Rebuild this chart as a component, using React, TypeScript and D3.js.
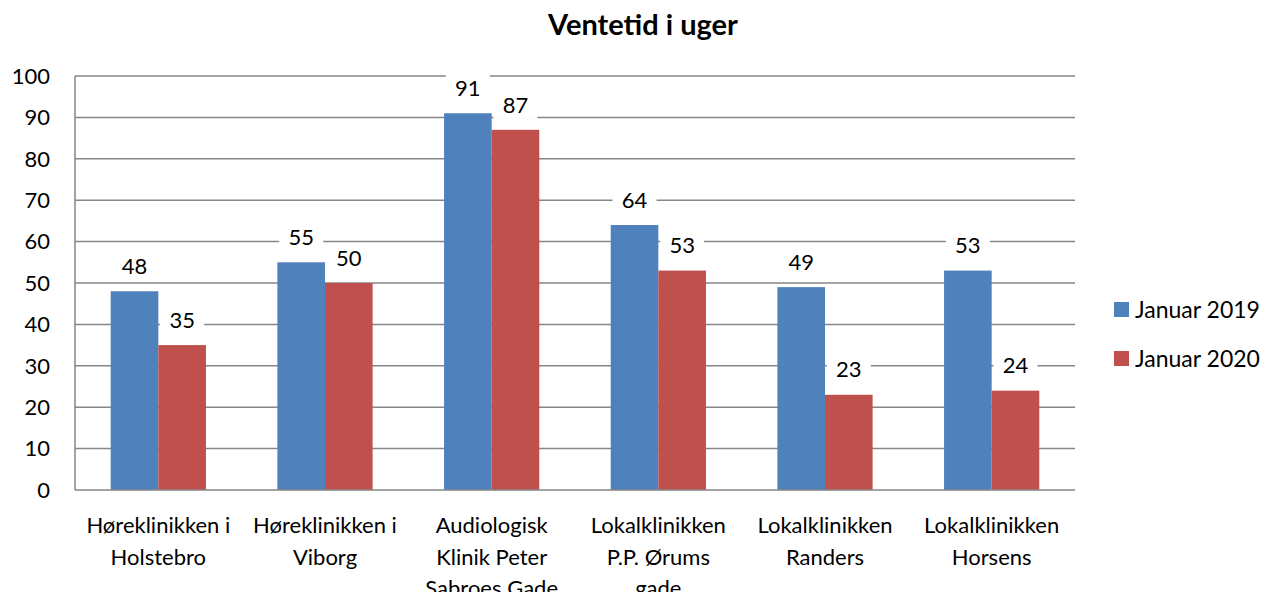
import { useRef, useEffect } from 'react';
import * as d3 from 'd3';

const categories = [
  ['Høreklinikken i', 'Holstebro'],
  ['Høreklinikken i', 'Viborg'],
  ['Audiologisk', 'Klinik Peter', 'Sabroes Gade'],
  ['Lokalklinikken', 'P.P. Ørums', 'gade'],
  ['Lokalklinikken', 'Randers'],
  ['Lokalklinikken', 'Horsens'],
];
const series = ['Januar 2019', 'Januar 2020'];
const jan2019 = [48, 55, 91, 64, 49, 53];
const jan2020 = [35, 50, 87, 53, 23, 24];
const yTicks = [0, 10, 20, 30, 40, 50, 60, 70, 80, 90, 100];
const colors = ['#4F81BD', '#C0504D'];

const FONT = 'Lato, "Open Sans", sans-serif';

const App = () => {
  const svgRef = useRef<SVGSVGElement>(null);

  useEffect(() => {
    const svg = d3.select(svgRef.current);
    svg.selectAll('*').remove();

    const left = 75, right = 1075, top = 76, bottom = 490;
    const x = d3.scaleBand<number>().domain(d3.range(categories.length)).range([left, right]);
    const y = d3.scaleLinear().domain([0, 100]).range([bottom, top]);
    const barW = x.bandwidth() / 3.5;

    // gridlines
    svg.append('g')
      .selectAll('line')
      .data(yTicks.slice(1))
      .join('line')
      .attr('x1', left).attr('x2', right)
      .attr('y1', (d) => y(d)).attr('y2', (d) => y(d))
      .attr('stroke', '#868686').attr('stroke-width', 1.5);

    // y tick labels
    svg.append('g')
      .selectAll('text')
      .data(yTicks)
      .join('text')
      .attr('x', 50).attr('y', (d) => y(d))
      .attr('dy', '0.35em')
      .attr('text-anchor', 'end')
      .attr('font-family', FONT).attr('font-size', 22)
      .text((d) => d);

    const data = [jan2019, jan2020];
    data.forEach((vals, s) => {
      const g = svg.append('g');
      g.selectAll('rect')
        .data(vals)
        .join('rect')
        .attr('x', (d, i) => x(i)! + x.bandwidth() / 2 - barW + s * barW)
        .attr('y', (d) => y(d))
        .attr('width', barW)
        .attr('height', (d) => bottom - y(d))
        .attr('fill', colors[s]);
    });

    // value labels with white boxes
    data.forEach((vals, s) => {
      const g = svg.append('g');
      const lbl = g.selectAll('g')
        .data(vals)
        .join('g')
        .attr('transform', (d, i) => `translate(${x(i)! + x.bandwidth() / 2 - barW / 2 + s * barW},${y(d) - 25})`);
      lbl.append('rect')
        .attr('x', -22).attr('y', -14).attr('width', 44).attr('height', 28)
        .attr('fill', 'white');
      lbl.append('text')
        .attr('text-anchor', 'middle').attr('dy', '0.35em')
        .attr('font-family', FONT).attr('font-size', 22)
        .text((d) => d);
    });

    // axes
    svg.append('line')
      .attr('x1', left).attr('x2', left).attr('y1', top).attr('y2', bottom)
      .attr('stroke', '#868686').attr('stroke-width', 1.5);
    svg.append('line')
      .attr('x1', left).attr('x2', right).attr('y1', bottom).attr('y2', bottom)
      .attr('stroke', '#868686').attr('stroke-width', 1.5);

    // category labels
    svg.append('g')
      .selectAll('text')
      .data(categories)
      .join('text')
      .attr('x', (d, i) => x(i)! + x.bandwidth() / 2)
      .attr('y', 533)
      .attr('text-anchor', 'middle')
      .attr('font-family', FONT).attr('font-size', 22)
      .selectAll('tspan')
      .data((d) => d)
      .join('tspan')
      .attr('x', function () { return (this.parentNode as SVGTextElement).getAttribute('x'); })
      .attr('dy', (d, i) => (i === 0 ? 0 : 31.5))
      .text((d) => d);

    // legend
    const legend = svg.append('g')
      .selectAll('g')
      .data(series)
      .join('g')
      .attr('transform', (d, i) => `translate(1114,${302 + i * 49})`);
    legend.append('rect').attr('width', 15).attr('height', 15).attr('fill', (d, i) => colors[i]);
    legend.append('text')
      .attr('x', 21).attr('y', 8).attr('dy', '0.35em')
      .attr('font-family', FONT).attr('font-size', 23)
      .text((d) => d);

    // title
    svg.append('text')
      .attr('x', 643).attr('y', 35)
      .attr('text-anchor', 'middle')
      .attr('font-family', FONT).attr('font-size', 29).attr('font-weight', 'bold')
      .text('Ventetid i uger');
  }, []);

  return <svg ref={svgRef} width={1279} height={600} style={{ display: 'block', margin: -8 }} />;
};

export default App;
